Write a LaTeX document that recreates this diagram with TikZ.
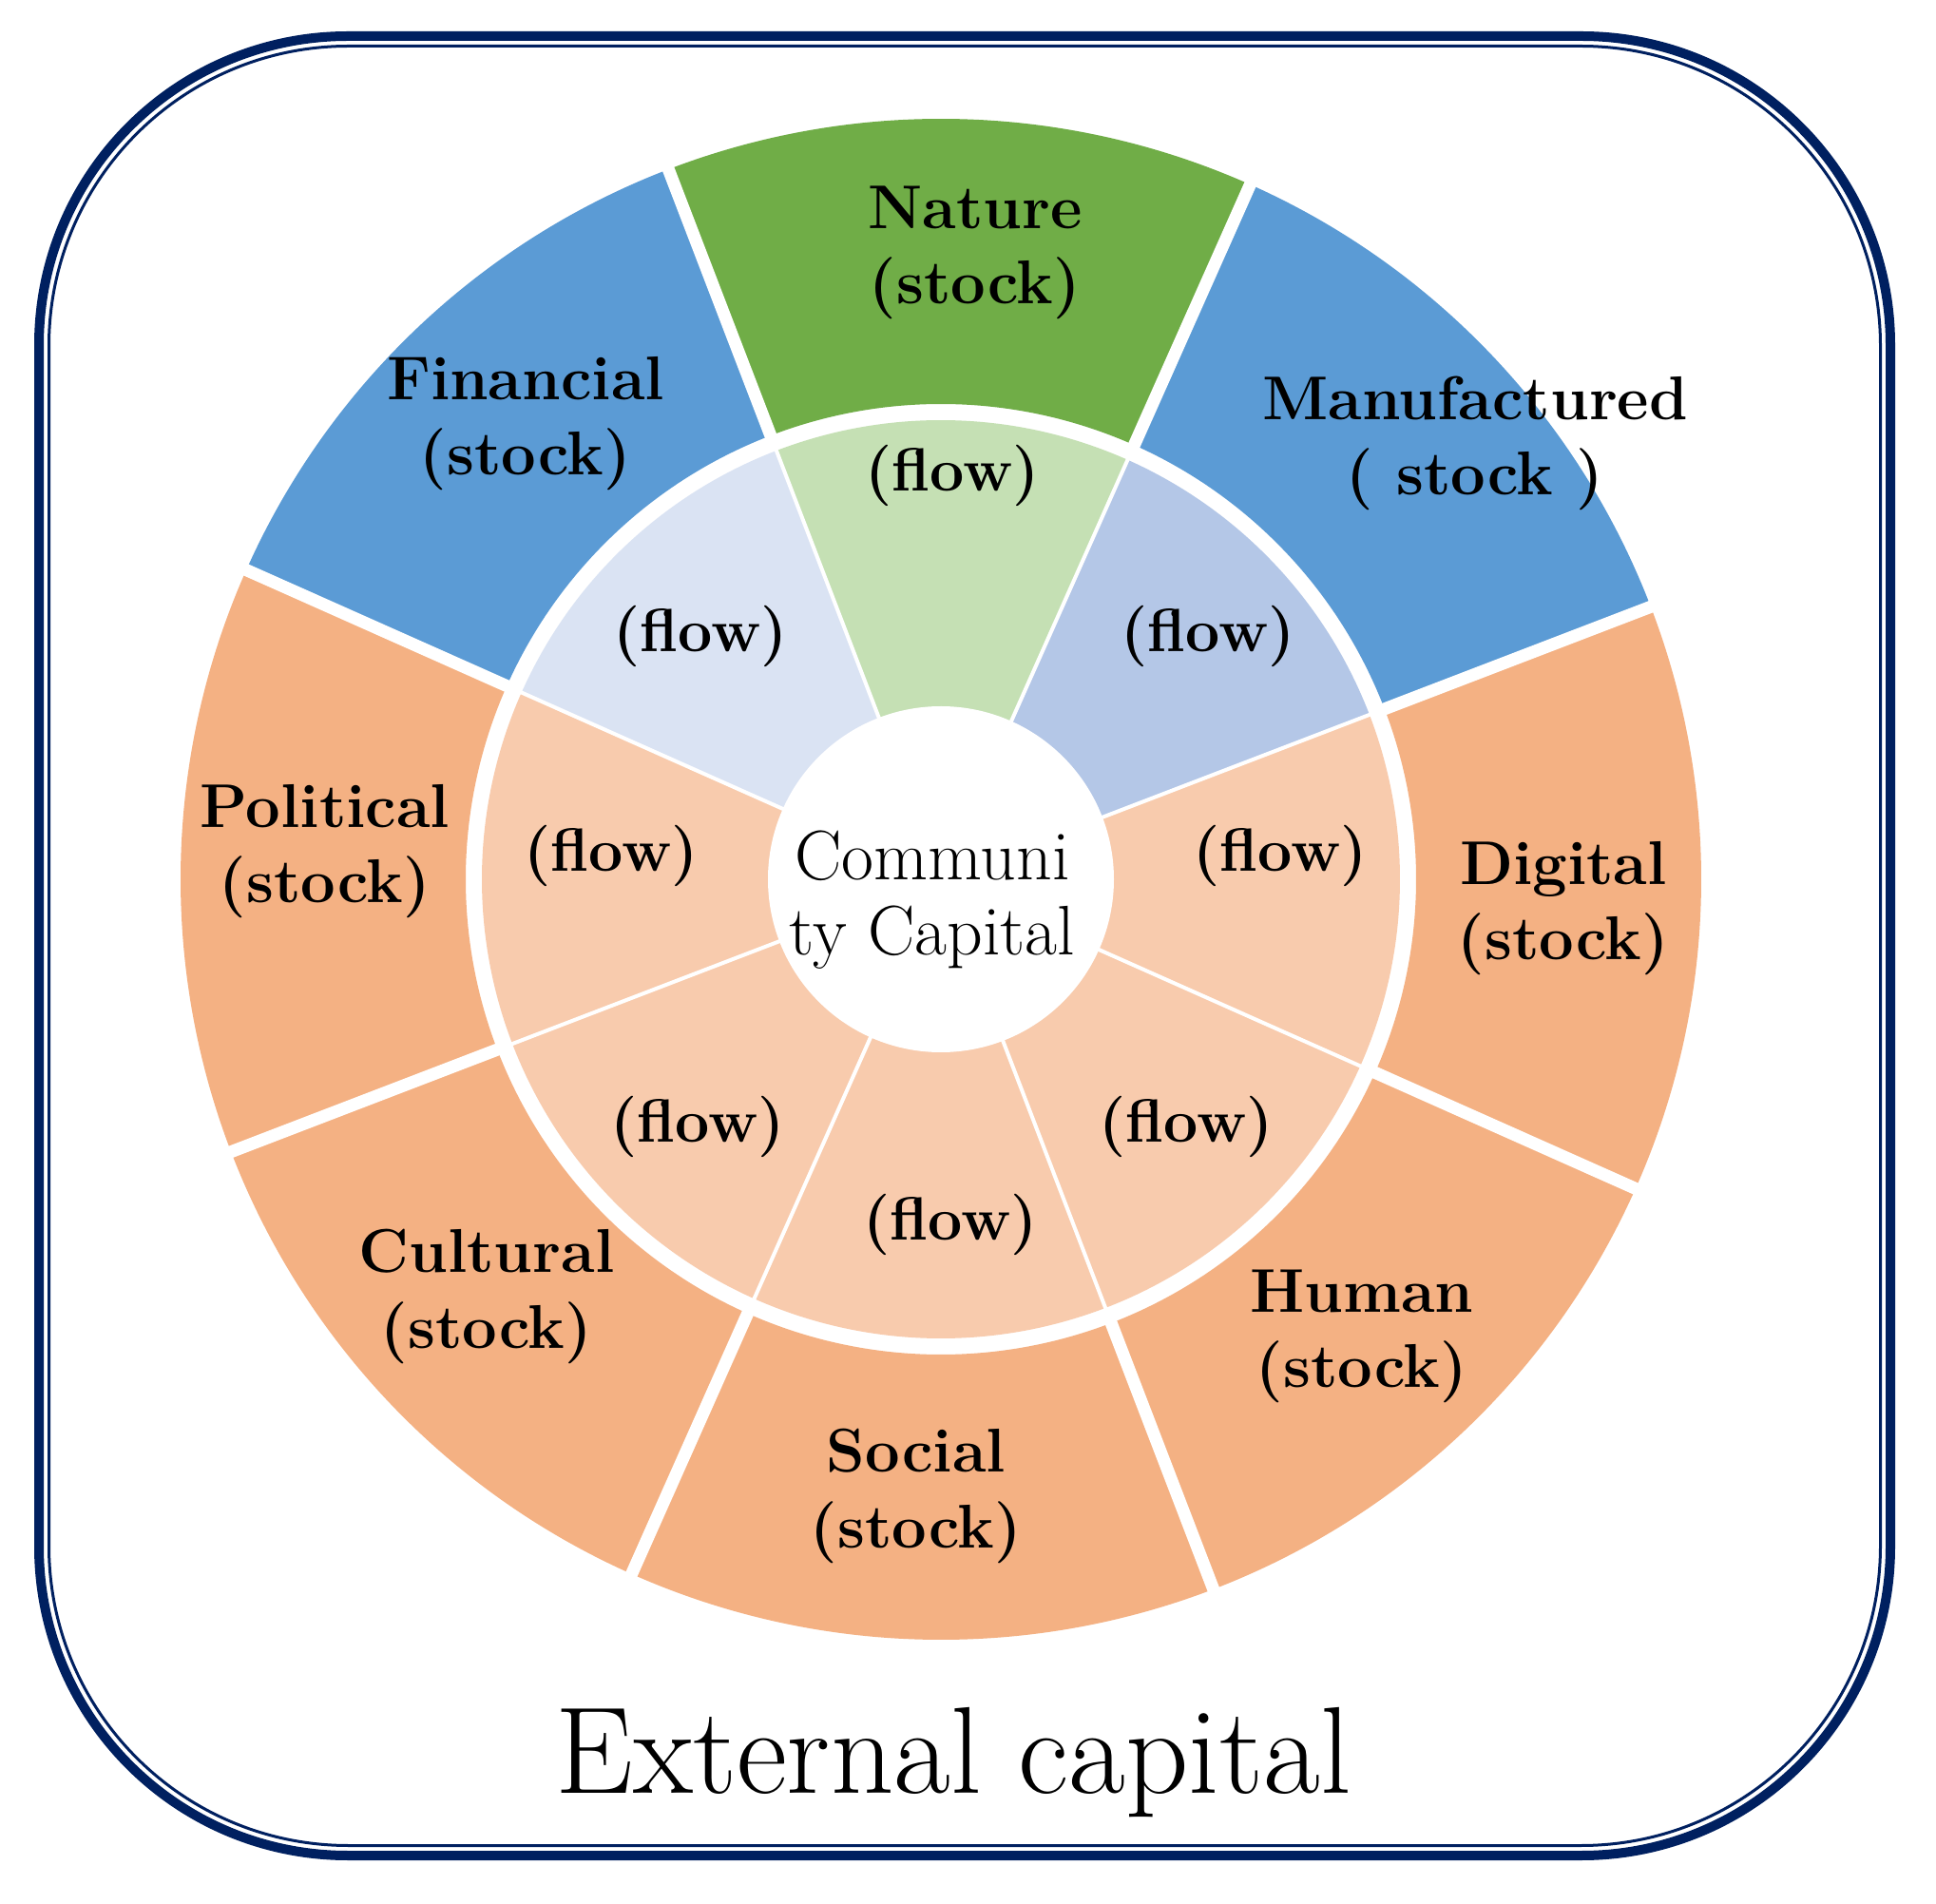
\documentclass[tikz,border=0pt]{standalone}
\usepackage{fontspec}
\definecolor{navy}{HTML}{002060}
\definecolor{natgreen}{HTML}{70AD47}
\definecolor{outblue}{HTML}{5B9BD5}
\definecolor{outorange}{HTML}{F4B183}
\definecolor{flowgreen}{HTML}{C5E0B4}
\definecolor{flowblueA}{HTML}{DAE3F3}
\definecolor{flowblueB}{HTML}{B4C7E7}
\definecolor{floworange}{HTML}{F8CBAD}
\newcommand\ringseg[5]{\fill[#1] (#2:#4) arc[start angle=#2, end angle=#3, radius=#4] -- (#3:#5) arc[start angle=#3, end angle=#2, radius=#5] -- cycle;}
\tikzset{
  stocklbl/.style={inner sep=0pt, align=center, font=\fontsize{18.5}{22.5}\selectfont\bfseries},
  flowlbl/.style={inner sep=0pt, font=\fontsize{18.3}{21}\selectfont\bfseries},
  widegap/.style={white, line width=0.13cm},
  thingap/.style={white, line width=0.04cm},
  frame/.style={navy}
}
\begin{document}
\begin{tikzpicture}[x=1cm,y=1cm]
\useasboundingbox (0,0) rectangle (20.37,20.02);
\fill[white] (0,0) rectangle (20.37,20.02);
\coordinate (C) at (9.90,10.77);
\begin{scope}[shift={(C)}]
  % outer ring (stock)
  \ringseg{natgreen}{66}{111}{5.00}{8.00}
  \ringseg{outblue}{111}{156}{5.00}{8.00}
  \ringseg{outorange}{156}{201}{5.00}{8.00}
  \ringseg{outorange}{201}{246}{5.00}{8.00}
  \ringseg{outorange}{246}{291}{5.00}{8.00}
  \ringseg{outorange}{291}{336}{5.00}{8.00}
  \ringseg{outorange}{336}{381}{5.00}{8.00}
  \ringseg{outblue}{21}{66}{5.00}{8.00}
  % middle ring (flow)
  \ringseg{flowgreen}{66}{111}{1.80}{4.83}
  \ringseg{flowblueA}{111}{156}{1.80}{4.83}
  \ringseg{floworange}{156}{201}{1.80}{4.83}
  \ringseg{floworange}{201}{246}{1.80}{4.83}
  \ringseg{floworange}{246}{291}{1.80}{4.83}
  \ringseg{floworange}{291}{336}{1.80}{4.83}
  \ringseg{floworange}{336}{381}{1.80}{4.83}
  \ringseg{flowblueB}{21}{66}{1.80}{4.83}
  % gaps
  \foreach \a in {21,66,111,156,201,246,291,336} {
    \draw[widegap] (\a:4.95) -- (\a:8.10);
    \draw[thingap] (\a:1.70) -- (\a:4.90);
  }
  \fill[white] (0,0) circle[radius=1.82];
\end{scope}
% frame
\draw[frame, line width=0.10cm, rounded corners=3.25cm] (0.41,0.50) rectangle (19.89,19.64);
\draw[frame, line width=0.03cm, rounded corners=3.15cm] (0.515,0.605) rectangle (19.785,19.535);
% stock labels
\node[stocklbl] (nature) at (10.26,17.36) {Nature\\(stock)};
\node[stocklbl] (financial) at (5.53,15.56) {Financial\\(stock)};
\node[stocklbl] (manuf) at (15.52,15.36) {Manufactured\\( stock )};
\node[stocklbl] (political) at (3.42,11.06) {Political\\(stock)};
\node[stocklbl] (digital) at (16.45,10.46) {Digital\\(stock)};
\node[stocklbl] (cultural) at (5.12,6.38) {Cultural\\(stock)};
\node[stocklbl] (human) at (14.33,5.96) {Human\\(stock)};
\node[stocklbl] (social) at (9.64,4.28) {Social\\(stock)};
% flow labels
\node[flowlbl] (fnature) at (10.02,15.02) {(flow)};
\node[flowlbl] (ffinancial) at (7.37,13.33) {(flow)};
\node[flowlbl] (fmanuf) at (12.71,13.33) {(flow)};
\node[flowlbl] (fpolitical) at (6.43,11.02) {(flow)};
\node[flowlbl] (fdigital) at (13.47,11.02) {(flow)};
\node[flowlbl] (fcultural) at (7.34,8.17) {(flow)};
\node[flowlbl] (fhuman) at (12.48,8.17) {(flow)};
\node[flowlbl] (fsocial) at (10.00,7.14) {(flow)};
% centre
\node[inner sep=0pt, align=center, font=\fontsize{21}{22.5}\selectfont] (community) at (9.81,10.55) {Communi\\ty Capital};
% external
\node[inner sep=0pt, anchor=base, font=\fontsize{37}{42}\selectfont] (external) at (10.03,1.16) {External capital};
\end{tikzpicture}
\end{document}
